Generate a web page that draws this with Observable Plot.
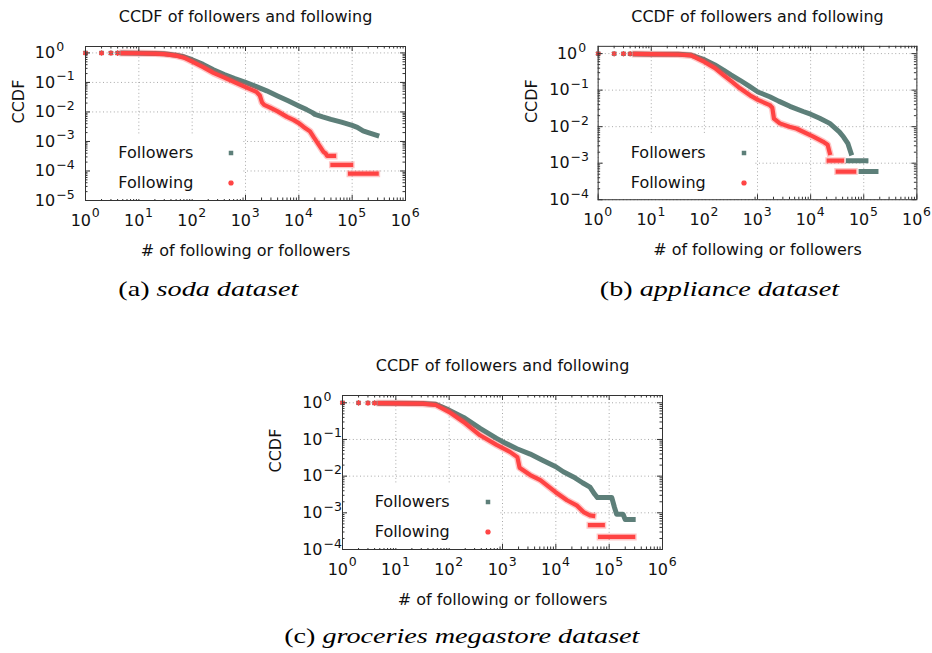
<!DOCTYPE html>
<html>
<head>
<meta charset="utf-8">
<script src="https://cdn.jsdelivr.net/npm/d3@7"></script>
<script src="https://cdn.jsdelivr.net/npm/@observablehq/plot@0.6"></script>
<style>
  html, body { margin: 0; padding: 0; background: #fff; }
  #page { position: relative; width: 932px; height: 653px; overflow: hidden;
          font-family: "DejaVu Sans", sans-serif; color: #111; }
  .panel { position: absolute; }
  .key { position: absolute; background: #fff; }
  .key .label { position: absolute; font-size: 16px; line-height: 20px; white-space: nowrap; text-align: right; }
  .key svg { position: absolute; overflow: visible; }
  .caption { position: absolute; width: 700px; text-align: center; white-space: nowrap;
             font-family: "Liberation Serif", serif; font-size: 22px; line-height: 22px; color: #000; }
  .caption span { display: inline-block; transform: scaleX(1.28); transform-origin: center; }
</style>
</head>
<body>
<div id="page"></div>
<script>
// ---- axis ticks: every label is "10" raised to the listed exponent ----
const tickBase = "10";
const xTicks = [1, 10, 100, 1000, 10000, 100000, 1000000];
const xTickExponents = ["0", "1", "2", "3", "4", "5", "6"];
const yTicksFive = [1, 0.1, 0.01, 0.001, 0.0001, 0.00001];
const yTickExponentsFive = ["0", "−1", "−2", "−3", "−4", "−5"];
const yTicksFour = [1, 0.1, 0.01, 0.001, 0.0001];
const yTickExponentsFour = ["0", "−1", "−2", "−3", "−4"];

// ---- text ----
const chartTitle = "CCDF of followers and following";
const xLabel = "# of following or followers";
const yLabel = "CCDF";
const seriesNames = ["Followers", "Following"];
const captionTags = ["(a)", "(b)", "(c)"];
const captionNames = ["soda dataset", "appliance dataset", "groceries megastore dataset"];

// ---- CCDF curves: [count, ccdf]; null separates the tail plateaus ----
const sodaFollowers = [
  [1, 1], [2, 0.995], [3, 0.99], [4, 0.99],
  [5, 0.99], [10, 0.977], [20, 0.955], [30, 0.93], [50, 0.84], [70, 0.74], [100, 0.59],
  [160, 0.41], [250, 0.27], [400, 0.186], [630, 0.135], [1000, 0.1], [1600, 0.072],
  [2500, 0.052], [4000, 0.035], [6300, 0.024], [10000, 0.016], [14000, 0.012],
  [18000, 0.0095], [20000, 0.0083], [28000, 0.0068], [40000, 0.0056], [63000, 0.0045],
  [100000, 0.0035], [125000, 0.003], [160000, 0.0023], [200000, 0.002], [290000, 0.0016]
];
const sodaFollowing = [
  [1, 1], [2, 0.995], [3, 0.99], [4, 0.985],
  [5, 0.985], [10, 0.975], [20, 0.95], [30, 0.91], [50, 0.81], [70, 0.69], [100, 0.51],
  [160, 0.33], [250, 0.21], [400, 0.145], [630, 0.1], [1000, 0.069], [1600, 0.048],
  [1860, 0.036], [2040, 0.021], [2240, 0.0174], [2900, 0.0141], [4000, 0.0105],
  [6000, 0.0068], [7900, 0.0054], [10000, 0.0042], [12300, 0.0031], [16200, 0.0022],
  [19000, 0.0014], [23400, 0.0008], [28800, 0.00045], [31600, 0.0004], [33900, 0.000325],
  [45700, 0.000325], null, [42700, 0.000162], [95500, 0.000162], null,
  [91200, 0.000081], [288000, 0.000081]
];
const applianceFollowers = [
  [1, 1], [2, 0.995], [3, 0.99], [4, 0.985],
  [5, 0.977], [10, 0.966], [32, 0.955], [56, 0.91], [100, 0.68], [158, 0.49], [229, 0.355],
  [316, 0.263], [468, 0.186], [708, 0.126], [1020, 0.089], [1700, 0.066], [2500, 0.05],
  [4070, 0.036], [7240, 0.026], [10000, 0.022], [14800, 0.017], [22900, 0.0123],
  [34700, 0.0072], [41700, 0.0052], [50100, 0.0035], [57500, 0.0019], null,
  [51300, 0.00117], [110000, 0.00117], null, [89000, 0.00059], [170000, 0.00059]
];
const applianceFollowing = [
  [1, 1], [2, 0.995], [3, 0.99], [4, 0.985],
  [5, 0.977], [10, 0.966], [32, 0.944], [56, 0.89], [100, 0.59], [158, 0.4], [229, 0.257],
  [316, 0.178], [468, 0.112], [724, 0.072], [1020, 0.054], [1700, 0.039], [1900, 0.033],
  [2040, 0.0166], [2630, 0.0123], [3980, 0.01], [5370, 0.0089], [11000, 0.0054],
  [17000, 0.0039], [20900, 0.0032], [22900, 0.0019], null,
  [21900, 0.00117], [38900, 0.00117], null, [32400, 0.00059], [66100, 0.00059]
];
const groceriesFollowers = [
  [1, 1], [2, 0.995], [3, 0.99], [4, 0.985],
  [5, 0.977], [10, 0.973], [32, 0.955], [56, 0.91], [100, 0.63], [186, 0.4], [380, 0.2],
  [776, 0.107], [1000, 0.087], [1860, 0.056], [3310, 0.04], [5500, 0.0275], [10000, 0.018],
  [13800, 0.0132], [21400, 0.0095], [31600, 0.0066], [43700, 0.005], [53700, 0.0032],
  [60300, 0.0026], [112000, 0.0026], [126000, 0.0014], [138000, 0.00091], [182000, 0.00091],
  [200000, 0.00066], [282000, 0.00066]
];
const groceriesFollowing = [
  [1, 1], [2, 0.995], [3, 0.99], [4, 0.985],
  [5, 0.977], [10, 0.966], [32, 0.944], [56, 0.87], [100, 0.56], [186, 0.3], [380, 0.13],
  [776, 0.071], [1380, 0.046], [1900, 0.033], [2090, 0.017], [3310, 0.0107], [5130, 0.0078],
  [9770, 0.0037], [16200, 0.0022], [24500, 0.0016], [33100, 0.00105], [43700, 0.00085],
  [50100, 0.00083], null, [43700, 0.00046], [75900, 0.00046], null,
  [67600, 0.00022], [282000, 0.00022]
];

// ---- layout and styling ----
const GREEN = "#5d7f79";
const RED = "#ff4343";
const GRID = "#a8a8a8";
const AXIS = "#333";
const INK = "#111";
const W = 320, H = 154;                      // frame size
const mL = 90, mR = 16, mT = 40, mB = 64;   // margins around the frame
const SUP = 12.5;                            // exponent font size

// baseDx: where the "10" of a y label ends, for exponent "0" and for the others
const panels = [
  { followers: sodaFollowers, following: sodaFollowing, yDomain: [1e-5, 1.65],
    yTicks: yTicksFive, yExp: yTickExponentsFive, baseDx: [-30.3, -30.3],
    left: 85.3, top: 46, capX: 208, capBase: 297 },
  { followers: applianceFollowers, following: applianceFollowing, yDomain: [1e-4, 1.58],
    yTicks: yTicksFour, yExp: yTickExponentsFour, baseDx: [-21, -28.7],
    left: 597.7, top: 46, capX: 719, capBase: 297 },
  { followers: groceriesFollowers, following: groceriesFollowing, yDomain: [1e-4, 1.58],
    yTicks: yTicksFour, yExp: yTickExponentsFour, baseDx: [-20, -20],
    left: 341.7, top: 395, capX: 462, capBase: 644 }
];

const px = d => (d == null ? NaN : d[0]);
const py = d => (d == null ? NaN : d[1]);
const isolated = s => s.filter(d => d && d[0] < 5);
const curve = s => s.filter(d => d == null || d[0] >= 5);
const minorTicks = (domain, majors) =>
  d3.scaleLog().domain(domain).ticks()
    .filter(t => !majors.some(m => Math.abs(Math.log10(t / m)) < 1e-6));

const lineStyle = { strokeLinecap: "square", strokeLinejoin: "round" };
const txt = { fontSize: 16, fill: INK, lineAnchor: "middle" };

function yTickLabels(p) {
  const marks = [];
  [true, false].forEach((zero, j) => {
    const idx = p.yTicks.map((t, i) => i).filter(i => (p.yExp[i] === "0") === zero);
    const ticks = idx.map(i => p.yTicks[i]);
    const dx = p.baseDx[j];
    marks.push(Plot.text(ticks, { y: d => d, frameAnchor: "left", dx, dy: 0.2,
                                  textAnchor: "end", text: () => tickBase, ...txt }));
    marks.push(Plot.text(ticks, { y: d => d, frameAnchor: "left", dx: dx + 1, dy: -6,
                                  textAnchor: "start", text: (d, k) => p.yExp[idx[k]],
                                  ...txt, fontSize: SUP }));
  });
  return marks;
}

function buildPanel(p) {
  const xMinor = minorTicks([1, 1e6], xTicks);
  const yMinor = minorTicks(p.yDomain, p.yTicks);
  return Plot.plot({
    width: mL + W + mR, height: mT + H + mB,
    marginLeft: mL, marginRight: mR, marginTop: mT, marginBottom: mB,
    x: { type: "log", domain: [1, 1e6], axis: null },
    y: { type: "log", domain: p.yDomain, axis: null },
    style: { fontFamily: '"DejaVu Sans", sans-serif', fontSize: "16px", color: INK,
             background: "transparent", overflow: "visible" },
    marks: [
      // dotted grid at the major ticks
      Plot.ruleX(xTicks, { x: d => d, stroke: GRID, strokeDasharray: "1,2.6" }),
      Plot.ruleY(p.yTicks, { y: d => d, stroke: GRID, strokeDasharray: "1,2.6" }),
      // followers curve
      Plot.line(curve(p.followers), { x: px, y: py, stroke: GREEN, strokeWidth: 5, ...lineStyle }),
      Plot.dot(isolated(p.followers), { x: px, y: py, symbol: "square", r: 2.5, fill: GREEN }),
      // following curve, drawn on top with a soft edge
      Plot.line(curve(p.following), { x: px, y: py, stroke: RED, strokeOpacity: 0.3, strokeWidth: 7, ...lineStyle }),
      Plot.line(curve(p.following), { x: px, y: py, stroke: RED, strokeWidth: 4.2, ...lineStyle }),
      Plot.dot(isolated(p.following), { x: px, y: py, symbol: "asterisk", r: 2.6, stroke: RED, strokeWidth: 1.3 }),
      // inward ticks on all four sides
      Plot.tickX(xTicks, { x: d => d, stroke: AXIS, insetTop: H - 5 }),
      Plot.tickX(xTicks, { x: d => d, stroke: AXIS, insetBottom: H - 5 }),
      Plot.tickX(xMinor, { x: d => d, stroke: AXIS, insetTop: H - 2.5 }),
      Plot.tickX(xMinor, { x: d => d, stroke: AXIS, insetBottom: H - 2.5 }),
      Plot.tickY(p.yTicks, { y: d => d, stroke: AXIS, insetRight: W - 5 }),
      Plot.tickY(p.yTicks, { y: d => d, stroke: AXIS, insetLeft: W - 5 }),
      Plot.tickY(yMinor, { y: d => d, stroke: AXIS, insetRight: W - 2.5 }),
      Plot.tickY(yMinor, { y: d => d, stroke: AXIS, insetLeft: W - 2.5 }),
      Plot.frame({ stroke: AXIS, strokeWidth: 1 }),
      // tick labels: "10" with a raised exponent
      Plot.text(xTicks, { x: d => d, frameAnchor: "bottom", dx: 5.5, dy: 19.9,
                          textAnchor: "end", text: () => tickBase, ...txt }),
      Plot.text(xTicks, { x: d => d, frameAnchor: "bottom", dx: 6.2, dy: 12.7,
                          textAnchor: "start", text: (d, i) => xTickExponents[i], ...txt, fontSize: SUP }),
      ...yTickLabels(p),
      // title and axis labels
      Plot.text([chartTitle], { frameAnchor: "top", dy: -30, ...txt }),
      Plot.text([xLabel], { frameAnchor: "bottom", dy: 50, ...txt }),
      Plot.text([yLabel], { frameAnchor: "left", dx: -67, rotate: -90, ...txt })
    ]
  });
}

const page = document.getElementById("page");

function markerSvg(i) {
  const ns = "http://www.w3.org/2000/svg";
  const svg = document.createElementNS(ns, "svg");
  svg.setAttribute("width", 10);
  svg.setAttribute("height", 10);
  if (i === 0) {
    const r = document.createElementNS(ns, "rect");
    r.setAttribute("x", 2.75); r.setAttribute("y", 2.75);
    r.setAttribute("width", 4.5); r.setAttribute("height", 4.5);
    r.setAttribute("fill", GREEN);
    svg.appendChild(r);
  } else {
    const g = document.createElementNS(ns, "path");
    g.setAttribute("d", "M5,2.2V7.8M2.2,5H7.8M3,3L7,7M7,3L3,7");
    g.setAttribute("stroke", RED);
    g.setAttribute("stroke-width", 1.3);
    svg.appendChild(g);
    const h = document.createElementNS(ns, "rect");
    h.setAttribute("x", 3); h.setAttribute("y", 3); h.setAttribute("width", 4); h.setAttribute("height", 4);
    h.setAttribute("fill", RED); h.setAttribute("opacity", 0.5);
    svg.appendChild(h);
  }
  return svg;
}

panels.forEach((p, k) => {
  const holder = document.createElement("div");
  holder.className = "panel";
  holder.style.left = (p.left - mL) + "px";
  holder.style.top = (p.top - mT) + "px";
  holder.appendChild(buildPanel(p));
  page.appendChild(holder);

  // key, opaque like the plot's own legend box
  const key = document.createElement("div");
  key.className = "key";
  key.style.left = (p.left + 6) + "px";
  key.style.top = (p.top + 88) + "px";
  key.style.width = "150px";
  key.style.height = (H - 88 - 1) + "px";
  seriesNames.forEach((name, i) => {
    const rowY = 18.7 + 30 * i;
    const lab = document.createElement("div");
    lab.className = "label";
    lab.textContent = name;
    lab.style.right = (150 - 102) + "px";
    lab.style.top = (rowY - 10) + "px";
    key.appendChild(lab);
    const m = markerSvg(i);
    m.style.left = (140 - 5) + "px";
    m.style.top = (rowY - 5) + "px";
    key.appendChild(m);
  });
  page.appendChild(key);

  // caption under the panel
  const cap = document.createElement("div");
  cap.className = "caption";
  cap.style.left = (p.capX - 350) + "px";
  cap.style.top = (p.capBase - 18.6) + "px";
  const span = document.createElement("span");
  span.textContent = captionTags[k] + " ";
  const it = document.createElement("i");
  it.textContent = captionNames[k];
  span.appendChild(it);
  cap.appendChild(span);
  page.appendChild(cap);
});
</script>
</body>
</html>
